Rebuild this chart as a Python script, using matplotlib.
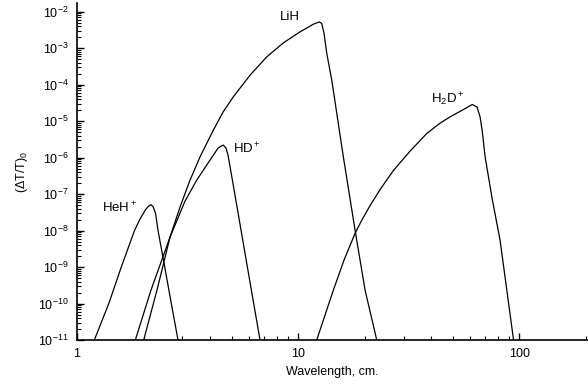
import numpy as np
import matplotlib
matplotlib.use("Agg")
import matplotlib.pyplot as plt
from matplotlib.ticker import LogLocator, FixedLocator, FixedFormatter, NullFormatter

plt.rcParams['font.family'] = ['Liberation Sans', 'DejaVu Sans']
plt.rcParams['mathtext.fontset'] = 'custom'
plt.rcParams['mathtext.rm'] = 'Liberation Sans'
plt.rcParams['mathtext.it'] = 'Liberation Sans'
plt.rcParams['font.size'] = 9

# DATA
heh_x = [1.198, 1.393, 1.586, 1.820, 1.928, 2.037, 2.107, 2.162, 2.208, 2.266, 2.326, 2.494,
         2.671, 2.864]
heh_y = [1e-11, 1e-10, 1e-9, 1e-8, 2.07e-8, 3.65e-8, 4.69e-8, 5.09e-8, 4.55e-8, 3.01e-8, 1e-8,
         1e-9, 1e-10, 1e-11]

hd_x = [1.836, 2.162, 2.636, 3.081, 3.481, 3.998, 4.345, 4.482, 4.592, 4.722, 4.822, 5.242,
        5.697, 6.193, 6.73]
hd_y = [1e-11, 2.34e-10, 6.64e-9, 6.43e-8, 2.42e-7, 8.55e-7, 1.82e-6, 2.07e-6, 2.2e-6, 1.82e-6,
        1.17e-6, 6.43e-8, 3.42e-9, 1.82e-10, 1e-11]

lih_x = [2.003, 2.301, 2.636, 2.925, 3.246, 3.603, 4.138, 4.577, 5.095, 6.066, 7.216, 8.582,
         10.21, 11.73, 12.49, 12.80, 13.11, 13.49, 14.21, 16.03, 18.11, 20.10, 22.70]
lih_y = [1e-11, 2.34e-10, 6.64e-9, 4.41e-8, 2.42e-7, 1.05e-6, 5.66e-6, 1.77e-5, 4.64e-5, 1.82e-4,
         5.78e-4, 1.40e-3, 2.80e-3, 4.55e-3, 5.26e-3, 4.75e-3, 2.53e-3, 7.16e-4, 1.33e-4, 1.05e-6,
         1.03e-8, 2.34e-10, 1e-11]

h2d_x = [12.15, 13.25, 14.45, 16.15, 18.11, 19.49, 21.18, 23.50, 26.99, 32.13, 38.23, 43.91,
         48.73, 56.97, 61.47, 64.56, 66.6, 68.03, 70.2, 75.46, 82.0, 94.4]
h2d_y = [1e-11, 4.84e-11, 2.34e-10, 1.56e-9, 8.38e-9, 2.0e-8, 4.84e-8, 1.33e-7, 4.41e-7, 1.51e-6,
         4.6e-6, 8.81e-6, 1.31e-5, 2.2e-5, 2.87e-5, 2.42e-5, 1.31e-5, 5.66e-6, 1.05e-6, 7.76e-8,
         5.5e-9, 1e-11]

x_ticks = [1, 10, 100]
x_ticklabels = ["1", "10", "100"]

fig = plt.figure(figsize=(5.88, 3.87), dpi=100)
ax = fig.add_axes([77/588, 47/387, 511/588, 336.7/387])

for xs, ys in [(heh_x, heh_y), (hd_x, hd_y), (lih_x, lih_y), (h2d_x, h2d_y)]:
    ax.plot(xs, ys, color="black", lw=0.9)

ax.set_xscale("log")
ax.set_yscale("log")
ax.set_xlim(1, 205)
ax.set_ylim(1e-11, 1.7e-2)

ax.xaxis.set_major_locator(FixedLocator(x_ticks))
ax.xaxis.set_major_formatter(FixedFormatter(x_ticklabels))
ax.xaxis.set_minor_locator(LogLocator(base=10, subs=np.arange(2, 10), numticks=20))
ax.xaxis.set_minor_formatter(NullFormatter())
ax.yaxis.set_major_locator(LogLocator(base=10, numticks=20))
ax.yaxis.set_minor_locator(LogLocator(base=10, subs=np.arange(2, 10), numticks=20))
ax.yaxis.set_minor_formatter(NullFormatter())

ax.tick_params(which="major", direction="in", length=5, width=1.0, pad=6)
ax.tick_params(which="minor", direction="in", length=2.8, width=0.8)
ax.spines["top"].set_visible(False)
ax.spines["right"].set_visible(False)
ax.spines["left"].set_linewidth(1.2)
ax.spines["bottom"].set_linewidth(1.2)

ax.set_xlabel("Wavelength, cm.", labelpad=4)
ax.set_ylabel(r"($\Delta$T/T)$_0$", labelpad=6)

ax.text(0.049, 0.380, r"HeH$^+$", transform=ax.transAxes, va="baseline", fontsize=9.5)
ax.text(0.305, 0.555, r"HD$^+$", transform=ax.transAxes, va="baseline", fontsize=9.5)
ax.text(0.397, 0.950, "LiH", transform=ax.transAxes, va="baseline", fontsize=9.5)
ax.text(0.692, 0.704, r"H$_2$D$^+$", transform=ax.transAxes, va="baseline", fontsize=9.5)

fig.savefig("out.png", dpi=100)
